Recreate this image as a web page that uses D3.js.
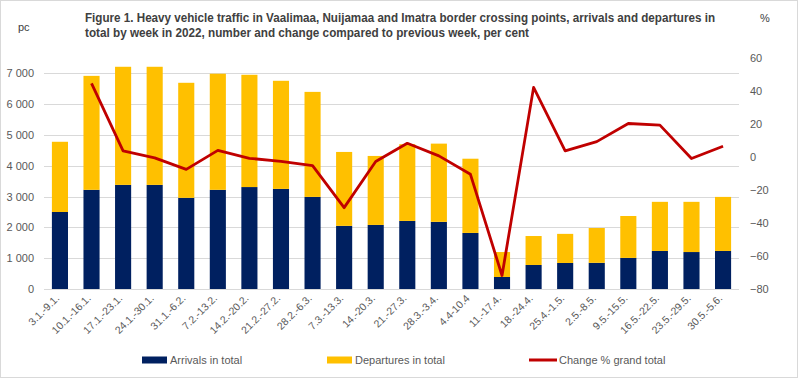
<!DOCTYPE html>
<html>
<head>
<meta charset="utf-8">
<script src="https://cdn.jsdelivr.net/npm/d3@7"></script>
<style>
    body { margin: 0; background: #fff; }
    svg { display: block; font-family: "Liberation Sans", Arial, sans-serif; }
</style>
</head>
<body>
<div id="chart"></div>
<script>
// weeks of 2022
var weeks = ["3.1.-9.1.", "10.1.-16.1.", "17.1.-23.1.", "24.1.-30.1.", "31.1.-6.2.", "7.2.-13.2.",
    "14.2.-20.2.", "21.2.-27.2.", "28.2.-6.3.", "7.3.-13.3.", "14.-20.3.", "21.-27.3.", "28.3.-3.4.",
    "4.4-10.4", "11.-17.4.", "18.-24.4.", "25.4.-1.5.", "2.5.-8.5.", "9.5.-15.5.", "16.5.-22.5.",
    "23.5.-29.5.", "30.5.-5.6."];
var arrivals = [2500, 3220, 3380, 3380, 2960, 3220, 3310, 3250, 2990, 2050, 2080, 2210, 2180,
    1820, 390, 780, 845, 850, 1010, 1235, 1200, 1235];
var departures = [2280, 3700, 3835, 3835, 3735, 3770, 3645, 3510, 3410, 2400, 2240, 2490, 2540,
    2410, 810, 940, 945, 1130, 1360, 1595, 1630, 1755];
// change % grand total, first week has no value
var change = [null, 44.6, 3.7, -0.5, -7.5, 4.0, -0.8, -2.6, -5.2, -30.7, -2.7, 8.3, 0.7,
    -10.5, -71.8, 42.2, 3.7, 9.3, 20.3, 19.3, -0.9, 6.5];
var leftTicks = [0, 1000, 2000, 3000, 4000, 5000, 6000, 7000];
var rightTicks = [-80, -60, -40, -20, 0, 20, 40, 60];

var W = 799, H = 379;
var plot = { left: 44, right: 739, top: 58, bottom: 289 };
var navy = "#002060", gold = "#FFC000", red = "#C00000", txt = "#595959";

var svg = d3.select("#chart").append("svg")
    .attr("width", W)
    .attr("height", H);

// chart border
svg.append("rect")
    .attr("x", 0.5).attr("y", 0.5)
    .attr("width", W - 2).attr("height", H - 2)
    .attr("fill", "#fff")
    .attr("stroke", "#d9d9d9");

var x = d3.scaleBand().domain(weeks).range([plot.left, plot.right]).paddingInner(0.49).paddingOuter(0.25);
var y = d3.scaleLinear().domain([0, 7500]).range([plot.bottom, plot.top]);
var y2 = d3.scaleLinear().domain([-80, 60]).range([plot.bottom, plot.top]);

// gridlines
svg.append("g").selectAll("line").data(leftTicks).enter().append("line")
    .attr("x1", plot.left).attr("x2", plot.right)
    .attr("y1", function (d) { return Math.round(y(d)) + 0.5 })
    .attr("y2", function (d) { return Math.round(y(d)) + 0.5 })
    .attr("stroke", "#d9d9d9")
    .attr("stroke-width", 1);

// left axis
var leftAxis = svg.append("g")
    .attr("transform", "translate(" + 34 + ",0)")
    .call(d3.axisLeft(y).tickValues(leftTicks).tickSize(0).tickPadding(0)
        .tickFormat(function (d) { return d3.format(",")(d).replace(",", " ") }));
leftAxis.select(".domain").remove();
leftAxis.selectAll("text").attr("fill", txt).style("font-size", "11px").attr("font-family", null);

// right axis
var rightAxis = svg.append("g")
    .attr("transform", "translate(" + 750 + ",0)")
    .call(d3.axisRight(y2).tickValues(rightTicks).tickSize(0).tickPadding(0));
rightAxis.select(".domain").remove();
rightAxis.selectAll("text").attr("fill", txt).style("font-size", "11px").attr("font-family", null);

// stacked bars
var bars = svg.append("g").selectAll("g").data(weeks).enter().append("g");
bars.append("rect")
    .attr("x", function (d) { return x(d) })
    .attr("width", x.bandwidth())
    .attr("y", function (d, i) { return y(arrivals[i]) })
    .attr("height", function (d, i) { return y(0) - y(arrivals[i]) })
    .attr("fill", navy);
bars.append("rect")
    .attr("x", function (d) { return x(d) })
    .attr("width", x.bandwidth())
    .attr("y", function (d, i) { return y(arrivals[i] + departures[i]) })
    .attr("height", function (d, i) { return y(arrivals[i]) - y(arrivals[i] + departures[i]) })
    .attr("fill", gold);

// change line on right axis
var line = d3.line()
    .defined(function (d) { return d.v !== null })
    .x(function (d) { return x(d.w) + x.bandwidth() / 2 })
    .y(function (d) { return y2(d.v) });
svg.append("path")
    .datum(weeks.map(function (w, i) { return { w: w, v: change[i] } }))
    .attr("d", line)
    .attr("fill", "none")
    .attr("stroke", red)
    .attr("stroke-width", 2.8)
    .attr("stroke-linejoin", "round");

// category labels, rotated
svg.append("g").selectAll("text").data(weeks).enter().append("text")
    .attr("transform", function (d) {
        return "translate(" + (x(d) + x.bandwidth() / 2) + "," + 299 + ") rotate(-45)";
    })
    .attr("text-anchor", "end")
    .attr("fill", txt)
    .style("font-size", "10.5px")
    .text(function (d) { return d });

// unit labels
svg.append("text").attr("x", 18).attr("y", 31).attr("fill", "#404040").style("font-size", "11px").text("pc");
svg.append("text").attr("x", 760).attr("y", 22).attr("fill", "#404040").style("font-size", "11px").text("%");

// title
var titleLines = [
    "Figure 1. Heavy vehicle traffic in Vaalimaa, Nuijamaa and Imatra border crossing points, arrivals and departures in",
    "total by week in 2022, number and change compared to previous week, per cent"
];
var titleWidths = [630, 444];
svg.append("g").selectAll("text").data(titleLines).enter().append("text")
    .attr("x", 85)
    .attr("y", function (d, i) { return 22 + i * 15 })
    .attr("textLength", function (d, i) { return titleWidths[i] })
    .attr("lengthAdjust", "spacingAndGlyphs")
    .attr("fill", "#404040")
    .style("font-size", "12px")
    .style("font-weight", "bold")
    .text(function (d) { return d });

// legend
var legendItems = [
    { label: "Arrivals in total", color: navy, type: "bar", x: 142 },
    { label: "Departures in total", color: gold, type: "bar", x: 327 },
    { label: "Change % grand total", color: red, type: "line", x: 529 }
];
var legend = svg.append("g").selectAll("g").data(legendItems).enter().append("g")
    .attr("transform", function (d) { return "translate(" + d.x + "," + 360 + ")" });
legend.append("rect")
    .attr("x", 0)
    .attr("y", function (d) { return d.type === "bar" ? -3.5 : -1.5 })
    .attr("width", function (d) { return d.type === "bar" ? 25 : 28 })
    .attr("height", function (d) { return d.type === "bar" ? 7 : 3 })
    .attr("fill", function (d) { return d.color });
legend.append("text")
    .attr("x", function (d) { return d.type === "bar" ? 28 : 30 })
    .attr("dy", "0.35em")
    .attr("fill", txt)
    .style("font-size", "11px")
    .text(function (d) { return d.label });
</script>
</body>
</html>
